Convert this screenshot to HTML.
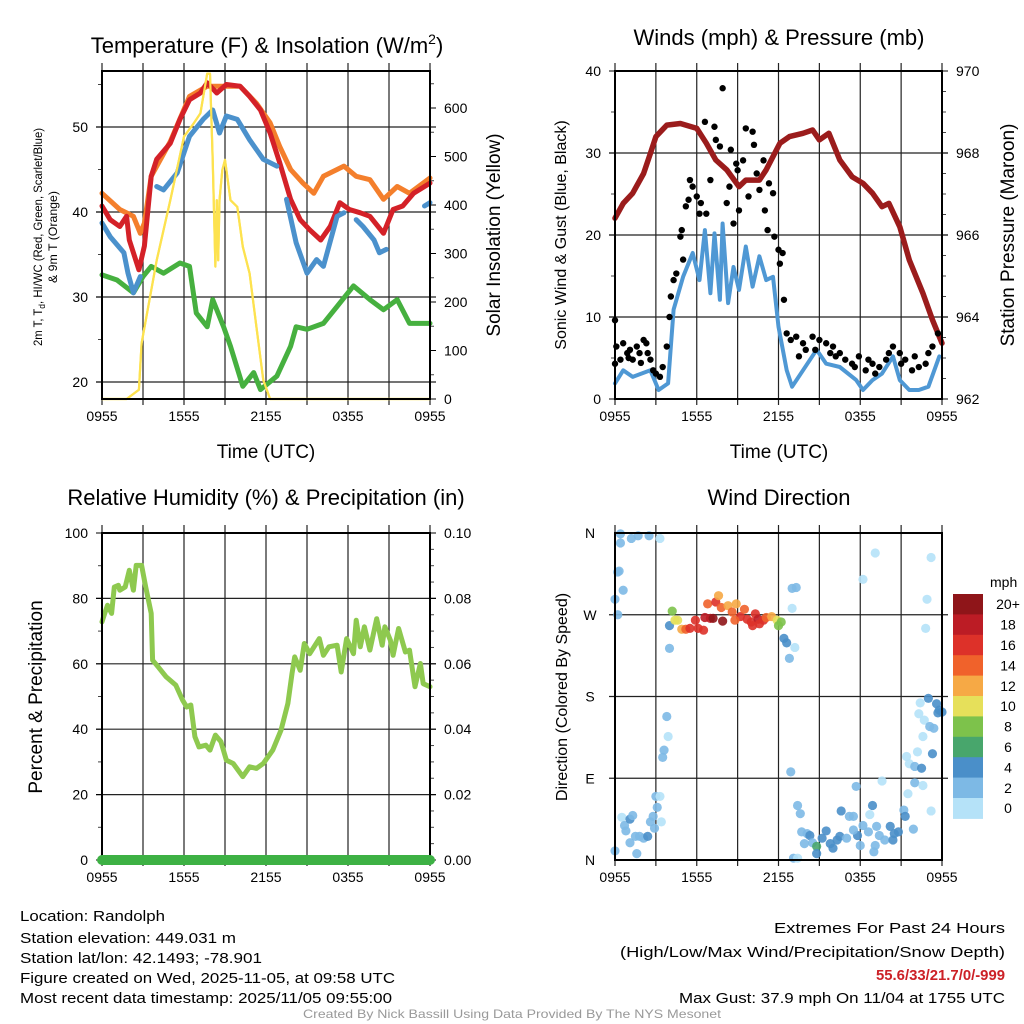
<!DOCTYPE html>
<html><head><meta charset="utf-8"><style>
html,body{margin:0;padding:0;background:#fff;}
svg{display:block;font-family:"Liberation Sans",sans-serif;}
</style></head><body>
<svg id="fig" width="1024" height="1024" viewBox="0 0 1024 1024" xmlns="http://www.w3.org/2000/svg">
<rect width="1024" height="1024" fill="#fff"/>
<g id="g1"></g>
<g id="g2"></g>
<g id="g3"></g>
<g id="g4"></g>
<text x="267" y="53" font-size="22" text-anchor="middle">Temperature (F) &amp; Insolation (W/m<tspan dy="-9" font-size="14">2</tspan><tspan dy="9">)</tspan></text>
<text x="779" y="45" font-size="22" text-anchor="middle">Winds (mph) &amp; Pressure (mb)</text>
<text x="266" y="505" font-size="22" text-anchor="middle">Relative Humidity (%) &amp; Precipitation (in)</text>
<text x="779" y="505" font-size="22" text-anchor="middle">Wind Direction</text>
<text x="266" y="458" font-size="19" text-anchor="middle">Time (UTC)</text>
<text x="779" y="458" font-size="19" text-anchor="middle">Time (UTC)</text>
<text transform="translate(42,237) rotate(-90)" font-size="12" text-anchor="middle" textLength="218" lengthAdjust="spacingAndGlyphs">2m T, T<tspan font-size="9" dy="3">d</tspan><tspan dy="-3">, HI/WC (Red, Green, Scarlet/Blue)</tspan></text>
<text transform="translate(57,237) rotate(-90)" font-size="12" text-anchor="middle" textLength="92" lengthAdjust="spacingAndGlyphs">&amp; 9m T (Orange)</text>
<text transform="translate(500,235) rotate(-90)" font-size="19" text-anchor="middle">Solar Insolation (Yellow)</text>
<text transform="translate(566,235) rotate(-90)" font-size="16" text-anchor="middle">Sonic Wind &amp; Gust (Blue, Black)</text>
<text transform="translate(1014,235) rotate(-90)" font-size="19" text-anchor="middle">Station Pressure (Maroon)</text>
<text transform="translate(42,697) rotate(-90)" font-size="19" text-anchor="middle">Percent &amp; Precipitation</text>
<text transform="translate(567,697) rotate(-90)" font-size="16" text-anchor="middle">Direction (Colored By Speed)</text>
<g font-size="15">
<text x="20" y="921" textLength="145" lengthAdjust="spacingAndGlyphs">Location: Randolph</text>
<text x="20" y="943" textLength="216" lengthAdjust="spacingAndGlyphs">Station elevation: 449.031 m</text>
<text x="20" y="963" textLength="242" lengthAdjust="spacingAndGlyphs">Station lat/lon: 42.1493; -78.901</text>
<text x="20" y="983" textLength="375" lengthAdjust="spacingAndGlyphs">Figure created on Wed, 2025-11-05, at 09:58 UTC</text>
<text x="20" y="1003" textLength="372" lengthAdjust="spacingAndGlyphs">Most recent data timestamp: 2025/11/05 09:55:00</text>
</g>
<g font-size="15" text-anchor="end">
<text x="1005" y="933" textLength="231" lengthAdjust="spacingAndGlyphs">Extremes For Past 24 Hours</text>
<text x="1005" y="957" textLength="385" lengthAdjust="spacingAndGlyphs">(High/Low/Max Wind/Precipitation/Snow Depth)</text>
<text x="1005" y="980" fill="#cc2127" font-weight="bold" textLength="129" lengthAdjust="spacingAndGlyphs">55.6/33/21.7/0/-999</text>
<text x="1005" y="1003" textLength="326" lengthAdjust="spacingAndGlyphs">Max Gust: 37.9 mph On 11/04 at 1755 UTC</text>
</g>
<text x="512" y="1018" font-size="12" fill="#999" text-anchor="middle" textLength="418" lengthAdjust="spacingAndGlyphs">Created By Nick Bassill Using Data Provided By The NYS Mesonet</text>
</svg>
<script>
// ---------- DATA (hours since 0955 UTC) ----------
const xTickLabels = ["0955","1555","2155","0355","0955"];
const tempTicks = [20,30,40,50];
const solarTicks = [0,100,200,300,400,500,600];
const windTicks = [0,10,20,30,40];
const presTicks = [962,964,966,968,970];
const rhTicks = [0,20,40,60,80,100];
const precipTicks = ["0.00","0.02","0.04","0.06","0.08","0.10"];
const dirLabels = ["N","E","S","W","N"];
const speedBinLabels = ["0","2","4","6","8","10","12","14","16","18","20+"];
const speedColors = ["#b5e2f8","#7db9e5","#4a8fc9","#48a66c","#7dc24b","#e6e05a","#f6a945","#f0622b","#dd3129","#bc1c25","#8f1519"];

const redT = [0,0.6,1.3,1.8,2.0,2.7,3.1,3.6,4.0,5.0,5.7,6.4,7.2,7.7,8.4,9.1,10.1,10.8,11.6,12.3,13.0,13.8,14.5,15.2,16.0,16.7,17.4,18.1,18.9,19.6,20.6,21.3,22.0,22.8,24.0];
const redV = [40.7,39.1,38.3,39.5,36.7,33.2,36.0,44.2,46.2,48.1,50.9,53.2,54.0,55.2,54.0,55.0,54.8,53.6,52.0,49.3,45.8,41.5,39.1,37.9,36.7,38.3,41.1,40.3,39.9,39.5,37.5,40.3,40.7,42.2,43.4];
const orangeT = [0,1.3,2.3,2.8,3.1,3.6,5.0,6.4,7.7,9.1,10.1,11.3,12.3,13.0,13.8,14.7,15.5,16.2,17.2,17.7,18.6,19.6,20.6,21.6,22.5,24.0];
const orangeV = [42.2,40.3,39.5,37.5,38.7,44.2,48.3,53.6,54.8,54.8,54.8,52.8,50.5,47.7,45.0,43.4,42.2,44.2,45.0,45.4,44.2,43.8,41.5,43.0,42.2,44.0];
const blueT = [0,0.6,1.6,1.9,2.3,2.8,null,4.0,4.5,5.5,6.4,7.4,8.1,8.6,9.1,9.9,10.8,11.8,12.8,null,13.5,14.2,15.0,15.7,16.2,17.2,17.7,null,18.6,19.1,19.9,20.3,20.8,null,23.6,24.0];
const blueV = [38.7,37.1,35.2,32.8,30.5,32.4,null,43.0,42.6,44.6,48.9,50.9,52.0,49.3,51.3,50.9,48.5,46.2,45.4,null,41.5,36.4,32.8,34.4,33.6,39.5,39.9,null,39.1,38.3,36.7,35.2,35.6,null,40.7,41.1];
const greenT = [0,1.1,2.3,3.0,3.6,4.5,5.7,6.4,6.9,7.7,8.1,8.9,9.4,10.3,11.1,11.6,12.8,13.8,14.2,15.0,16.2,17.2,18.4,19.6,20.6,21.6,22.5,24.0];
const greenV = [32.6,32.0,30.5,32.4,33.6,32.8,34.0,33.6,28.1,26.5,29.7,26.5,24.2,19.5,21.1,19.1,20.7,24.2,26.5,26.2,26.9,28.9,31.3,29.7,28.5,29.7,26.9,26.9];
const solarT = [0,1.8,2.7,2.9,4.0,5.0,6.0,6.7,7.2,7.7,7.9,8.1,8.3,8.4,8.5,8.6,8.8,9.0,9.4,9.9,10.3,10.8,11.3,11.8,12.3,24.0];
const solarV = [0,0,19,115,286,410,541,568,589,671,671,493,273,410,286,410,472,493,410,396,314,259,149,39,0,0];

const presT = [0,0.6,1.3,2.1,2.6,3.0,3.8,4.8,6.0,6.7,7.4,8.2,9.1,9.6,10.6,11.1,12.1,12.8,13.8,14.5,15.0,15.7,16.5,17.4,18.2,18.9,19.6,20.1,20.9,21.6,22.6,23.3,24.0];
const presV = [966.41,966.77,967.02,967.50,967.99,968.40,968.68,968.72,968.60,968.24,967.83,967.59,967.18,967.34,967.34,967.59,968.24,968.40,968.48,968.56,968.32,968.48,967.83,967.42,967.26,967.02,966.69,966.77,966.20,965.39,964.58,963.93,963.36];
const windT = [0,0.6,1.3,2.6,3.2,3.9,4.3,5.0,5.7,6.2,6.6,7.0,7.3,7.7,7.9,8.3,8.7,9.1,9.6,10.1,10.6,11.1,11.6,12.0,12.6,13.0,13.8,14.8,15.5,16.5,17.7,18.2,18.9,19.6,20.4,20.9,21.6,22.3,23.0,23.8];
const windV = [1.9,3.5,2.7,3.5,1.1,1.9,10.9,14.9,17.8,14.5,20.6,12.9,20.2,12.1,21.4,11.7,16.1,13.3,18.6,13.7,17.4,14.5,14.9,8.8,3.5,1.5,3.5,6.0,4.3,3.9,2.3,1.1,2.3,3.1,5.2,2.3,1.1,1.1,1.5,5.2];
const gustT = [0.0,0.0,0.1,0.4,0.6,0.9,1.0,1.1,1.3,1.6,1.8,1.9,2.1,2.3,2.4,2.6,2.8,3.0,3.3,3.5,3.8,4.0,4.1,4.3,4.5,4.8,4.9,5.0,5.2,5.4,5.5,5.7,6.0,6.2,6.3,6.6,6.7,7.0,7.3,7.4,7.7,7.9,8.2,8.4,8.5,8.7,8.9,9.0,9.1,9.4,9.6,9.8,10.1,10.2,10.4,10.6,10.9,11.0,11.2,11.3,11.6,11.7,12.0,12.1,12.3,12.4,12.6,12.9,13.3,13.5,13.8,14.0,14.5,14.7,15.0,15.5,15.8,16.0,16.2,16.5,16.9,17.4,17.6,17.9,18.4,18.6,18.9,19.1,19.4,19.9,20.1,20.4,20.9,21.0,21.3,21.8,22.0,22.3,22.8,23.0,23.3,23.7];
const gustV = [4.3,9.6,6.4,4.8,6.8,5.6,5.0,6.0,4.8,6.4,5.6,4.4,7.2,6.8,5.6,4.8,3.5,3.1,2.7,3.9,6.4,10.0,12.5,14.5,15.3,19.8,20.6,17.0,23.5,24.3,26.7,25.9,24.7,22.6,23.9,33.8,22.6,26.7,33.2,31.6,30.8,37.9,23.9,25.9,30.4,21.4,28.7,27.9,23.0,29.1,33.0,24.7,32.6,31.0,27.5,25.5,29.1,23.0,20.6,26.3,25.1,19.8,18.2,16.5,17.8,12.1,8.0,7.2,7.6,5.2,6.8,6.0,7.6,6.0,7.2,6.8,5.6,6.4,5.2,5.6,4.8,4.3,3.9,5.2,3.5,4.8,4.3,3.1,3.9,4.8,5.6,6.4,5.6,4.3,4.8,3.5,5.2,3.9,4.3,5.6,6.4,8.0];

const rhT = [0,0.2,0.4,0.7,0.9,1.2,1.3,1.7,2.0,2.3,2.5,2.9,3.2,3.6,3.7,4.1,4.7,5.4,5.9,6.2,6.5,6.8,7.1,7.6,7.9,8.3,8.7,9.1,9.6,10.3,10.8,11.3,11.8,12.5,13.1,13.6,13.9,14.1,14.5,14.8,15.2,15.9,16.2,16.6,17.2,17.5,17.9,18.4,18.6,18.9,19.2,19.6,20.1,20.5,20.7,21.1,21.3,21.7,22.2,22.5,22.9,23.3,23.5,24.0];
const rhV = [72.8,75.4,77.9,75.4,83.5,84.0,82.5,83.5,88.6,82.5,90.1,90.1,83.5,75.4,61.1,59.1,56.0,53.5,48.9,46.8,47.4,37.7,34.6,35.1,33.6,38.2,36.2,30.5,29.5,25.5,28.5,28.0,29.5,33.6,39.7,47.9,57.0,62.1,58.0,66.2,63.1,67.7,62.6,65.2,65.7,57.5,67.7,63.1,73.3,65.2,71.3,64.2,73.8,65.7,71.3,67.2,62.6,70.8,63.6,64.2,53.0,60.1,53.9,53.0];
const precipT = [0,24];
const precipV = [0,0];

const dirT = [0.4,0.4,1.2,1.7,2.5,3.3,0.2,0.3,0.6,0.0,0.2,0.0,0.5,0.7,1.1,1.3,0.8,1.1,1.5,1.8,2.1,2.4,1.6,2.6,2.8,2.9,3.1,3.0,3.3,3.4,3.8,3.9,3.6,3.5,4.0,4.0,
4.2,4.6,4.4,4.9,5.2,5.5,5.9,6.1,6.5,6.6,7.0,7.2,6.8,7.4,7.6,7.8,7.9,8.3,8.6,8.9,9.2,9.5,9.7,10.0,10.3,10.5,10.9,11.1,11.5,11.9,12.2,12.0,8.8,10.1,10.6,
12.4,12.6,12.8,13.2,13.0,13.3,13.0,12.9,
13.4,13.6,13.7,14.1,14.3,13.9,14.5,14.8,14.8,15.2,15.5,15.8,16.0,16.3,16.5,16.6,17.0,17.2,17.5,17.8,18.0,17.7,18.2,18.7,18.9,18.6,19.2,19.4,19.1,19.0,19.6,19.8,20.2,20.4,20.5,20.8,21.2,21.3,21.5,21.9,22.0,22.6,23.2,13.1,13.4,17.5,
21.4,21.6,22.0,22.2,22.5,22.6,22.7,23.1,23.4,23.3,22.3,22.4,23.0,23.6,23.8,23.7,24.0,
19.1,18.2,23.2,22.9,22.8];
const dirV = [359,349,354,357,357,354,317,318,297,287,270,10,47,38,45,49,32,19,26,26,24,26,7,42,48,35,58,70,70,42,158,136,121,113,233,258,
274,264,264,254,254,255,264,255,253,267,266,266,282,284,291,278,263,280,273,282,268,276,265,262,271,265,264,267,268,264,262,258,264,258,260,
244,239,222,234,299,300,277,97,
60,51,31,29,27,18,19,15,7,24,32,18,13,22,26,54,24,48,48,27,16,81,38,50,60,31,37,27,16,9,87,22,37,22,29,31,55,48,73,34,85,82,54,2,2,33,
114,106,103,119,101,136,154,147,145,117,161,173,178,172,165,162,163,
338,309,333,287,255];
const dirS = [2.5,2.5,2.5,2.5,2.5,1,2.5,2.5,2.5,2.5,2.5,2.5,1,2.5,5,2.5,2.5,2.5,2.5,2.5,2.5,5,2.5,2.5,2.5,2.5,2.5,2.5,1,1,2.5,1,2.5,2.5,2.5,5,
8,10,10,13,15,17,17,17,17,19,19,21,15,17,13,15,21,13,15,13,17,15,17,17,17,19,17,15,13,10,8,8,15,17,17,
5,5,2.5,1,2.5,2.5,1,2.5,
2.5,2.5,2.5,2.5,5,2.5,2.5,7,5,5,5,5,5,5,5,5,2.5,2.5,2.5,5,2.5,2.5,2.5,1,5,2.5,2.5,2.5,2.5,2.5,1,2.5,5,5,5,5,2.5,5,1,2.5,2.5,1,1,2.5,1,2.5,
1,1,2.5,1,5,1,1,2.5,2.5,5,1,1,5,5,5,5,5,
1,1,1,1,1];

// ---------- helpers ----------
const NS = "http://www.w3.org/2000/svg";
function mk(parent, tag, attrs){ const e=document.createElementNS(NS,tag); for(const k in attrs) e.setAttribute(k,attrs[k]); parent.appendChild(e); return e; }
function lin(d0,d1,r0,r1){ return v => r0 + (v-d0)*(r1-r0)/(d1-d0); }
function pathFrom(ts, vs, fx, fy){
  let d="", pen=false;
  for(let i=0;i<ts.length;i++){
    if(ts[i]===null||vs[i]===null){pen=false;continue;}
    d += (pen?"L":"M")+fx(ts[i]).toFixed(1)+","+fy(vs[i]).toFixed(1);
    pen=true;
  }
  return d;
}
function frame(g, L, R, T, B, hLines){
  const fx = lin(0,24,L,R);
  for(let h=0; h<=24; h+=3){
    const ln = mk(g,"line",{x1:fx(h),x2:fx(h),y1:T-8,y2:B+6,stroke:"#222","stroke-width":1.2});
    
    
  }
  hLines.forEach(y=>{
    const ln = mk(g,"line",{x1:L-6,x2:R+6,y1:y,y2:y,stroke:"#222","stroke-width":1.2});
    
    
  });
  xTickLabels.forEach((t,i)=>{
    const tx = mk(g,"text",{x:fx(i*6),y:B+22,"font-size":14,"text-anchor":"middle"});
    tx.textContent=t;
    
    
  });
  return fx;
}
function border(g,L,R,T,B){
  const r = mk(g,"rect",{x:L,y:T,width:R-L,height:B-T,fill:"none",stroke:"#000","stroke-width":2});
  
  
}
// edge: x of plot edge; side -1 = left axis (ticks go left), +1 = right axis
function yTicks(g, vals, labels, fy, edge, side, minorVals){
  vals.forEach((v,i)=>{
    const y=fy(v);
    const tk = mk(g,"line",{x1:edge,x2:edge+side*6,y1:y,y2:y,stroke:"#000","stroke-width":1});
    
    
    const tx = mk(g,"text",{x:edge+side*14,y:y+5,"font-size":14,"text-anchor":side<0?"end":"start"});
    tx.textContent = labels[i];
    
    
  });
  (minorVals||[]).forEach(v=>{
    const y=fy(v);
    const tk = mk(g,"line",{x1:edge,x2:edge+side*4,y1:y,y2:y,stroke:"#444","stroke-width":1});
    
    
  });
}
function series(g, name, ts, vs, fx, fy, color, w){
  const p = mk(g,"path",{d:pathFrom(ts,vs,fx,fy),fill:"none",stroke:color,"stroke-width":w,"stroke-linejoin":"round","stroke-linecap":"round"});
  
  
}

// ---------- Panel 1 ----------
(function(){
  const g=document.getElementById("g1");
  const L=102,R=430,T=71,B=399;
  const fyT = lin(20,50,382,127);
  const fyS = lin(0,600,399,108);
  const fx = frame(g,L,R,T,B,tempTicks.map(fyT));
  yTicks(g,tempTicks,tempTicks.map(String),fyT,L,-1,[25,35,45,55]);
  yTicks(g,solarTicks,solarTicks.map(String),fyS,R,1,[50,150,250,350,450,550,650]);
  series(g,"solar-insolation-line",solarT,solarV,fx,fyS,"#fde24f",2.2);
  series(g,"dewpoint-line",greenT,greenV,fx,fyT,"#46b03f",5);
  series(g,"9m-temperature-line",orangeT,orangeV,fx,fyT,"#f47f2c",5);
  series(g,"2m-temperature-line",redT,redV,fx,fyT,"#d42128",5);
  series(g,"heat-index-windchill-line",blueT,blueV,fx,fyT,"#4b91cc",5);
  series(g,"solar-insolation-line-top",solarT,solarV,fx,fyS,"#fde24f",2.2);
  border(g,L,R,T,B);
})();

// ---------- Panel 2 ----------
(function(){
  const g=document.getElementById("g2");
  const L=615,R=942,T=71,B=399;
  const fyW = lin(0,40,399,71);
  const fyP = lin(962,970,399,71);
  const fx = frame(g,L,R,T,B,windTicks.slice(1,4).map(fyW));
  yTicks(g,windTicks,windTicks.map(String),fyW,L,-1,[5,15,25,35]);
  yTicks(g,presTicks,presTicks.map(String),fyP,R,1,[962.5,963,963.5,964.5,965,965.5,966.5,967,967.5,968.5,969,969.5]);
  series(g,"pressure-line",presT,presV,fx,fyP,"#9b1c1c",5.5);
  series(g,"sonic-wind-line",windT,windV,fx,fyW,"#4f98d4",4);
  gustT.forEach((t,i)=>{
    const c = mk(g,"circle",{cx:fx(t),cy:fyW(gustV[i]),r:3.2,fill:"#000"});
    
    
  });
  border(g,L,R,T,B);
})();

// ---------- Panel 3 ----------
(function(){
  const g=document.getElementById("g3");
  const L=102,R=430,T=533,B=860;
  const fyR = lin(0,100,860,533);
  const fx = frame(g,L,R,T,B,rhTicks.slice(1,5).map(fyR));
  yTicks(g,rhTicks,rhTicks.map(String),fyR,L,-1,[10,30,50,70,90]);
  const fyP = lin(0,0.10,860,533);
  const pv=[0,0.02,0.04,0.06,0.08,0.10];
  yTicks(g,pv,precipTicks,fyP,R,1,[0.005,0.01,0.015,0.025,0.03,0.035,0.045,0.05,0.055,0.065,0.07,0.075,0.085,0.09,0.095]);
  series(g,"relative-humidity-line",rhT,rhV,fx,fyR,"#8ec94f",5);
  border(g,L,R,T,B);
  series(g,"precipitation-line",precipT,precipV,fx,fyP,"#3db144",10);
})();

// ---------- Panel 4 ----------
(function(){
  const g=document.getElementById("g4");
  const L=615,R=942,T=533,B=860;
  const fyD = lin(0,360,860,533);
  const fx = frame(g,L,R,T,B,[90,180,270].map(fyD));
  [0,90,180,270,360].forEach((v,i)=>{
    const tx = mk(g,"text",{x:590,y:fyD(v)+5,"font-size":14,"text-anchor":"middle"});
    tx.textContent = dirLabels[i];
    
    
  });
  dirT.forEach((t,i)=>{
    const bin = Math.min(10, Math.floor(dirS[i]/2));
    const c = mk(g,"circle",{cx:fx(t),cy:fyD(dirV[i]),r:4.6,fill:speedColors[bin],"fill-opacity":0.9});
    
    
  });
  border(g,L,R,T,B);
  const cb = mk(g,"g",{});
  
  
  const t = mk(cb,"text",{x:990,y:587,"font-size":14});
  t.textContent="mph";
  
  
  const top=594, h=20.4;
  speedBinLabels.forEach((lab,i)=>{
    const k = 10-i;
    const r = mk(cb,"rect",{x:953,y:top+i*h,width:30,height:h+0.5,fill:speedColors[k]});
    
    
    const tx = mk(cb,"text",{x:1008,y:top+i*h+h/2+5,"font-size":14,"text-anchor":"middle"});
    tx.textContent = speedBinLabels[k];
    
    
  });
})();
</script>
</body></html>
